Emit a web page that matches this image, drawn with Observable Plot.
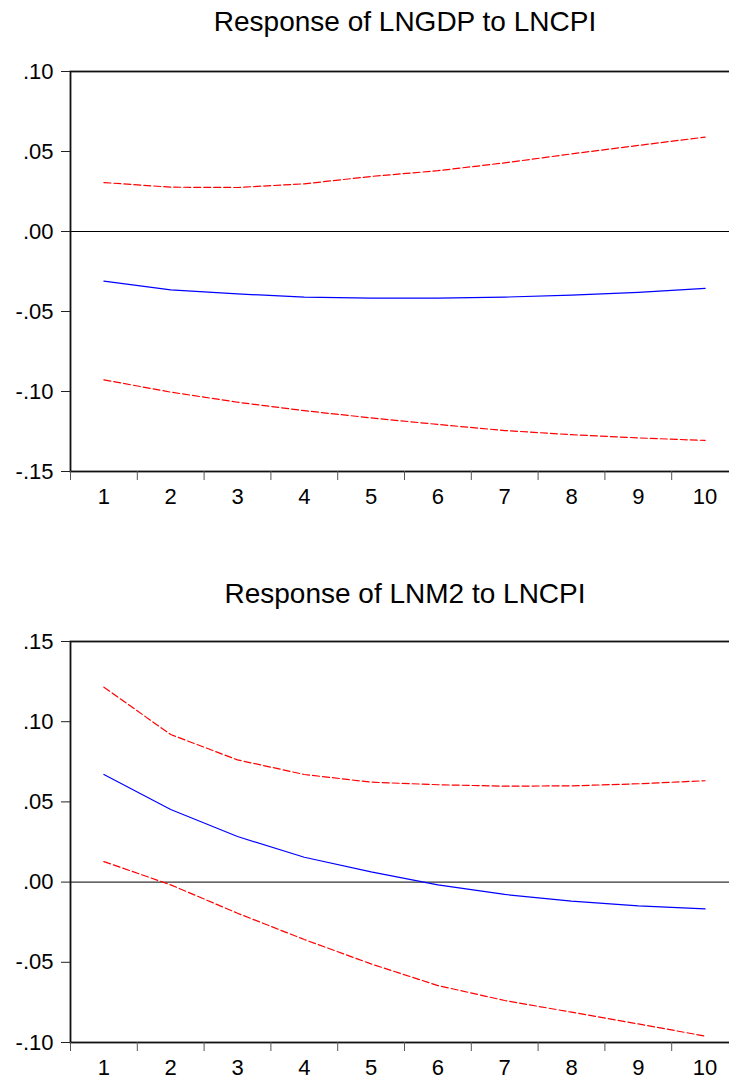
<!DOCTYPE html>
<html>
<head>
<meta charset="utf-8">
<script src="https://cdn.jsdelivr.net/npm/d3@7"></script>
<script src="https://cdn.jsdelivr.net/npm/@observablehq/plot@0.6"></script>
<style>
  html, body { margin: 0; padding: 0; background: #fff; overflow: hidden; }
  #wrap { position: relative; width: 729px; height: 1079px; overflow: hidden; background: #fff; }
  .ttl { position: absolute; left: 105px; width: 600px; text-align: center; font-family: "Liberation Sans", Arial, sans-serif; font-size: 28px; line-height: 28px; color: #000; white-space: nowrap; }
  .pnl { position: absolute; left: 0; width: 740px; }
  .pnl svg { max-width: none !important; display: block; }
</style>
</head>
<body>
<div id="wrap"></div>
<script>
// ---- data ----
const periods = [1, 2, 3, 4, 5, 6, 7, 8, 9, 10];
const tickBoundaries = [0.5, 1.5, 2.5, 3.5, 4.5, 5.5, 6.5, 7.5, 8.5, 9.5, 10.5];

const gdpTitle = "Response of LNGDP to LNCPI";
const gdpResp  = [-0.0310, -0.0365, -0.0390, -0.0410, -0.0417, -0.0417, -0.0410, -0.0398, -0.0380, -0.0356];
const gdpUpper = [0.0306, 0.0277, 0.0275, 0.0298, 0.0344, 0.0380, 0.0429, 0.0485, 0.0538, 0.0590];
const gdpLower = [-0.0927, -0.1004, -0.1067, -0.1120, -0.1165, -0.1206, -0.1244, -0.1270, -0.1290, -0.1306];
const gdpYTicks = [-0.15, -0.10, -0.05, 0.00, 0.05, 0.10];

const m2Title = "Response of LNM2 to LNCPI";
const m2Resp  = [0.0671, 0.0453, 0.0284, 0.0155, 0.0064, -0.0017, -0.0077, -0.0119, -0.0148, -0.0167];
const m2Upper = [0.1215, 0.0920, 0.0762, 0.0671, 0.0623, 0.0607, 0.0598, 0.0600, 0.0613, 0.0632];
const m2Lower = [0.0128, -0.0017, -0.0194, -0.0358, -0.0510, -0.0645, -0.0738, -0.0811, -0.0884, -0.0960];
const m2YTicks = [-0.10, -0.05, 0.00, 0.05, 0.10, 0.15];

// ---- helpers ----
const fmt = d => (d < -1e-9 ? "-" : "") + Math.abs(d).toFixed(2).replace(/^0/, "");

function panel({resp, upper, lower, yTicks, marginTop, marginBottom, plotH}) {
  const rows = periods.map((p, i) => ({period: p, resp: resp[i], upper: upper[i], lower: lower[i]}));
  return Plot.plot({
    width: 740,
    height: marginTop + plotH + marginBottom,
    marginLeft: 70,
    marginRight: 2,
    marginTop,
    marginBottom,
    style: {fontFamily: "'Liberation Sans', Arial, sans-serif", fontSize: "22px", color: "#000", background: "transparent", maxWidth: "none"},
    x: {domain: [0.5, 10.5], axis: null},
    y: {domain: [yTicks[0], yTicks[yTicks.length - 1]], axis: null},
    marks: [
      Plot.ruleY([0], {stroke: "#000", strokeWidth: 1}),
      Plot.line(rows, {x: "period", y: "upper", stroke: "#ff0000", strokeWidth: 1.2, strokeDasharray: "7,3"}),
      Plot.line(rows, {x: "period", y: "lower", stroke: "#ff0000", strokeWidth: 1.2, strokeDasharray: "7,3"}),
      Plot.line(rows, {x: "period", y: "resp", stroke: "#0000ff", strokeWidth: 1.2}),
      Plot.frame({stroke: "#111", strokeWidth: 1.8}),
      Plot.axisY({ticks: yTicks, tickFormat: fmt, tickSize: 9, tickPadding: 8, stroke: "#222", label: null}),
      Plot.axisX({ticks: tickBoundaries, tickFormat: () => "", tickSize: 9, stroke: "#555", label: null}),
      Plot.axisX({ticks: periods, tickFormat: d => String(d), tickSize: 0, tickPadding: 17, label: null})
    ]
  });
}

const wrap = document.getElementById("wrap");

function addTitle(text, top) {
  const t = document.createElement("div");
  t.className = "ttl";
  t.style.top = top + "px";
  t.textContent = text;
  wrap.appendChild(t);
}

function addPanel(svg, top) {
  const d = document.createElement("div");
  d.className = "pnl";
  d.style.top = top + "px";
  d.appendChild(svg);
  wrap.appendChild(d);
}

addPanel(panel({resp: gdpResp, upper: gdpUpper, lower: gdpLower, yTicks: gdpYTicks, marginTop: 71, marginBottom: 55, plotH: 400}), 0);
addPanel(panel({resp: m2Resp, upper: m2Upper, lower: m2Lower, yTicks: m2YTicks, marginTop: 115, marginBottom: 37, plotH: 401}), 526);
addTitle(gdpTitle, 8);
addTitle(m2Title, 580);
</script>
</body>
</html>
